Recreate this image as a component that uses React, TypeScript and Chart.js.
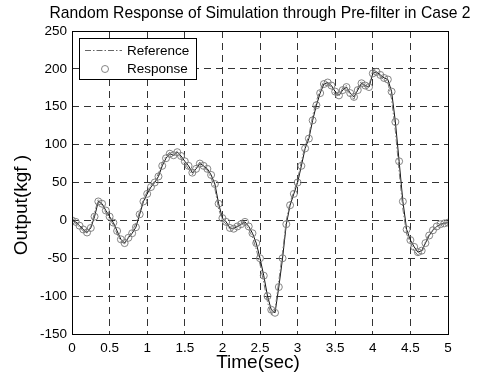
import React, { useEffect, useRef } from "react";
import { Chart, registerables } from "chart.js";

Chart.register(...registerables);

const times: number[] = [
  0, 0.05, 0.1, 0.15, 0.2, 0.25, 0.3, 0.35, 0.4, 0.45,
  0.5, 0.55, 0.6, 0.65, 0.7, 0.75, 0.8, 0.85, 0.9, 0.95,
  1, 1.05, 1.1, 1.15, 1.2, 1.25, 1.3, 1.35, 1.4, 1.45,
  1.5, 1.55, 1.6, 1.65, 1.7, 1.75, 1.8, 1.85, 1.9, 1.95,
  2, 2.05, 2.1, 2.15, 2.2, 2.25, 2.3, 2.35, 2.4, 2.45,
  2.5, 2.55, 2.6, 2.65, 2.7, 2.75, 2.8, 2.85, 2.9, 2.95,
  3, 3.05, 3.1, 3.15, 3.2, 3.25, 3.3, 3.35, 3.4, 3.45,
  3.5, 3.55, 3.6, 3.65, 3.7, 3.75, 3.8, 3.85, 3.9, 3.95,
  4, 4.05, 4.1, 4.15, 4.2, 4.25, 4.3, 4.35, 4.4, 4.45,
  4.5, 4.55, 4.6, 4.65, 4.7, 4.75, 4.8, 4.85, 4.9, 4.95,
  5,
];

const referenceValues: number[] = [
  0, -4, -9, -14, -17, -8, 10, 28, 20, 10,
  2, -6, -18, -28, -31, -22, -14, -4, 12, 28,
  38, 46, 52, 62, 76, 85, 90, 84, 92, 82,
  75, 68, 60, 70, 77, 70, 66, 56, 42, 15,
  0, -5, -12, -10, -6, -3, -4, -12, -22, -38,
  -58, -82, -108, -125, -118, -80, -42, 0, 24, 38,
  54, 78, 98, 112, 138, 158, 172, 184, 180, 175,
  166, 164, 175, 178, 164, 160, 175, 184, 175, 178,
  198, 194, 190, 185, 182, 160, 118, 65, 15, -18,
  -30, -40, -46, -44, -28, -18, -12, -8, -6, -4,
  -2,
];

const responseValues: number[] = [
  0, -2, -7, -12, -16, -10, 5, 25, 22, 13,
  5, -3, -14, -25, -30, -23, -17, -9, 8, 25,
  35, 44, 50, 58, 72, 82, 88, 86, 90, 85,
  78, 72, 63, 68, 75, 72, 68, 60, 48, 22,
  3, -2, -10, -11, -8, -5, -2, -8, -17, -30,
  -50, -73, -100, -118, -122, -88, -50, -5, 20, 35,
  50, 72, 95, 108, 132, 152, 168, 180, 182, 178,
  170, 165, 172, 176, 168, 163, 172, 181, 178, 176,
  194, 196, 192, 188, 186, 170, 130, 78, 25, -12,
  -26, -35, -42, -40, -30, -20, -13, -8, -5, -4,
  -3,
];

const titleText = "Random Response of Simulation through Pre-filter in Case 2";
const xTitle = "Time(sec)";
const yTitle = "Output(kgf )";
const seriesNames = ["Reference", "Response"];

const FONT = "'Liberation Sans', Arial, Helvetica, sans-serif";
const REF_DASH = [6, 2, 1.5, 2];

const decorPlugin = {
  id: "decor",
  afterDraw(chart: any) {
    const { ctx, chartArea: a } = chart;
    ctx.save();
    ctx.strokeStyle = "#000";
    ctx.lineWidth = 1;
    ctx.setLineDash([]);
    ctx.strokeRect(a.left + 0.5, a.top + 0.5, a.right - a.left, a.bottom - a.top);

    ctx.fillStyle = "#000";
    ctx.font = `15.7px ${FONT}`;
    ctx.textAlign = "center";
    ctx.textBaseline = "middle";
    ctx.fillText(titleText, 260, 14);

    ctx.font = `19px ${FONT}`;
    ctx.fillText(xTitle, 258, 363);

    ctx.save();
    ctx.translate(22, 205);
    ctx.rotate(-Math.PI / 2);
    ctx.fillText(yTitle, 0, 0);
    ctx.restore();

    const lx = 79, ly = 38, lw = 117, lh = 41;
    ctx.fillStyle = "#fff";
    ctx.fillRect(lx, ly, lw, lh);
    ctx.strokeStyle = "#000";
    ctx.strokeRect(lx + 0.5, ly + 0.5, lw, lh);

    ctx.strokeStyle = "#666";
    ctx.setLineDash(REF_DASH);
    ctx.beginPath();
    ctx.moveTo(85, 50.5);
    ctx.lineTo(122, 50.5);
    ctx.stroke();
    ctx.setLineDash([]);

    ctx.strokeStyle = "#777";
    ctx.lineWidth = 0.9;
    ctx.beginPath();
    ctx.arc(105, 69, 3.5, 0, Math.PI * 2);
    ctx.stroke();

    ctx.fillStyle = "#000";
    ctx.font = `13.5px ${FONT}`;
    ctx.textAlign = "left";
    ctx.fillText(seriesNames[0], 127, 51);
    ctx.fillText(seriesNames[1], 127, 69);
    ctx.restore();
  },
};

export default function App() {
  const ref = useRef<HTMLCanvasElement | null>(null);

  useEffect(() => {
    if (!ref.current) return;
    const refData = times.map((t, i) => ({ x: t, y: referenceValues[i] }));
    const resData = times.map((t, i) => ({ x: t, y: responseValues[i] }));
    const chart = new Chart(ref.current, {
      type: "line",
      data: {
        datasets: [
          {
            label: seriesNames[0],
            data: refData,
            borderColor: "#777",
            borderWidth: 1,
            borderDash: REF_DASH,
            pointRadius: 0,
            fill: false,
            tension: 0,
          },
          {
            label: seriesNames[1],
            data: resData,
            borderColor: "#111",
            borderWidth: 1,
            pointRadius: 3.5,
            pointBorderColor: "#777",
            pointBorderWidth: 0.9,
            pointBackgroundColor: "rgba(0,0,0,0)",
            pointStyle: "circle",
            fill: false,
            tension: 0,
          },
        ],
      },
      options: {
        animation: false,
        responsive: false,
        maintainAspectRatio: false,
        events: [],
        layout: { padding: { left: 0, top: 31, right: 34, bottom: 0 } },
        plugins: {
          legend: { display: false },
          title: { display: false },
          tooltip: { enabled: false },
        },
        scales: {
          x: {
            type: "linear",
            min: 0,
            max: 5,
            afterFit: (s: any) => {
              s.height = 41;
            },
            ticks: {
              stepSize: 0.5,
              autoSkip: false,
              maxRotation: 0,
              padding: 6,
              color: "#000",
              font: { family: FONT, size: 13.5 },
              callback: (v: any) => String(Number(v)),
            },
            grid: { color: "#333", lineWidth: 1, drawTicks: false },
            border: { display: false, dash: [7, 5] },
          },
          y: {
            type: "linear",
            min: -150,
            max: 250,
            afterFit: (s: any) => {
              s.width = 72;
            },
            ticks: {
              stepSize: 50,
              padding: 5,
              color: "#000",
              font: { family: FONT, size: 13.5 },
            },
            grid: { color: "#333", lineWidth: 1, drawTicks: false },
            border: { display: false, dash: [7, 5] },
          },
        },
      },
      plugins: [decorPlugin],
    });
    return () => chart.destroy();
  }, []);

  return (
    <div style={{ position: "fixed", left: 0, top: 0, width: 482, height: 375, background: "#fff" }}>
      <canvas ref={ref} width={482} height={375} style={{ width: 482, height: 375, display: "block" }} />
    </div>
  );
}
